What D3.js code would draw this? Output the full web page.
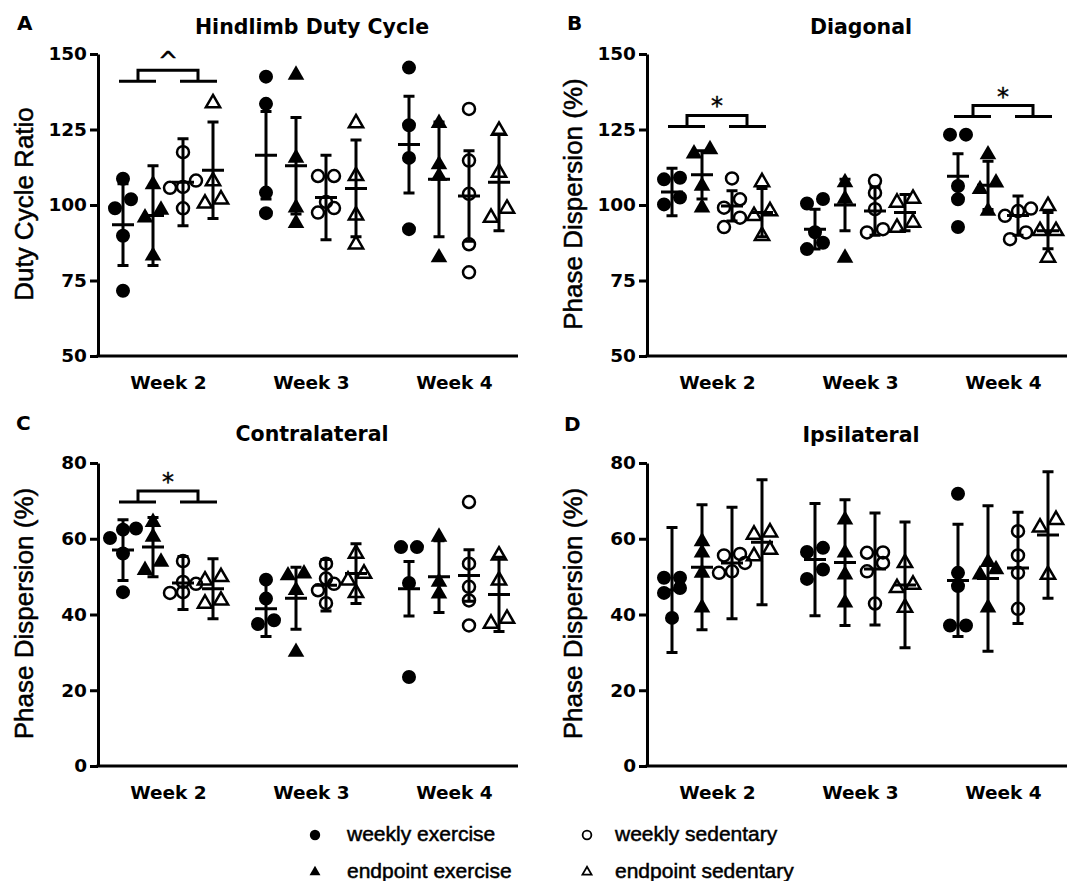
<!DOCTYPE html>
<html>
<head>
<meta charset="utf-8">
<script src="https://cdn.jsdelivr.net/npm/d3@7"></script>
<style>
body { margin: 0; background: #fff; }
</style>
</head>
<body>
<div id="chart"></div>
<script>
var weeks = ["Week 2", "Week 3", "Week 4"],
  groups = ["weekly exercise", "endpoint exercise", "weekly sedentary", "endpoint sedentary"],
  panelIds = ["A", "B", "C", "D"],
  panelTitles = ["Hindlimb Duty Cycle", "Diagonal", "Contralateral", "Ipsilateral"],
  yLabels = ["Duty Cycle Ratio", "Phase Dispersion (%)", "Phase Dispersion (%)", "Phase Dispersion (%)"],
  yDomains = [[50, 150], [50, 150], [0, 80], [0, 80]],
  yTicks = [[50, 75, 100, 125, 150], [50, 75, 100, 125, 150], [0, 20, 40, 60, 80], [0, 20, 40, 60, 80]];

// single animals, [week][group]
var dutyPoints = [
  [[108.7, 98.9, 101.9, 89.8, 71.6], [98.4, 106.8, 95.8, 83.2], [117.5, 108.1, 106, 105.7, 98.9], [133.7, 107.9, 100.5, 101.9]],
  [[142.5, 133.5, 104.1, 97.3], [143.1, 115.6, 94, 99.1], [109.6, 109.6, 101, 99, 97.5], [127.1, 109.6, 96.6, 87]],
  [[145.5, 126.4, 115.6, 92], [113.4, 127.1, 109.6, 82.6], [131.8, 114.7, 103.7, 87, 77.7], [124.6, 110.7, 95.8, 98.8]]
];
var diagonalPoints = [
  [[109, 108.5, 102.5, 100.2], [118.4, 117, 106.3, 99.1], [108.8, 101.9, 99.1, 95.8, 92.7], [107.6, 98, 96.4, 89.8]],
  [[102, 100.5, 91, 87.5, 85.4], [107.5, 102, 82.5], [104, 108, 98.6, 90.9, 92], [102.1, 100.8, 92.5, 94.2]],
  [[123.3, 123.3, 106.3, 101.9, 92.7], [116.7, 107.4, 105.2, 98], [98.8, 98, 96.4, 90.9, 88.7], [99.7, 91.4, 91.4, 82.6]]
];
var contraPoints = [
  [[60.2, 62.7, 62.4, 56.1, 45.9], [64.4, 60.5, 51.7, 53.9], [54.1, 48.1, 48.6, 45.9, 45.7], [49.9, 49, 42.9, 43.7]],
  [[49.2, 44.2, 38.5, 37.5], [50.3, 50.8, 46.4, 30.1], [53.4, 49.5, 46.4, 48.1, 43], [56.1, 50.8, 49, 45.7]],
  [[57.8, 57.8, 48.3, 23.5], [60.5, 48.6, 45.5], [69.7, 53.4, 47.3, 43.7, 37.1], [55.6, 49, 37.6, 38.9]]
];
var ipsiPoints = [
  [[49.7, 49.7, 47, 45.7, 39.1], [56.3, 59.3, 51, 41.8], [53.6, 55.6, 56, 51, 51.4], [61.7, 61.1, 55.4, 57.1]],
  [[57.6, 56.5, 51.9, 49.4], [65, 56.3, 50.5, 43.1], [56.4, 56.3, 53.6, 51.4, 42.9], [53.6, 47.9, 47, 41.8]],
  [[71.9, 51, 47.5, 37.1, 37.1], [53.8, 51.9, 50.5, 41.8], [62, 55.6, 51, 41.5], [65, 63, 50.5]]
];

// mean and SD, [week][group]
var dutyMean = [[93.5, 96.5, 107.5, 111.5], [116.5, 113, 102.5, 105.5], [120, 108.5, 103, 107.5]],
  dutySd = [[13.5, 16.5, 14.4, 16], [14.5, 16, 14, 16], [16, 19, 15, 16]];
var diagonalMean = [[104.3, 110, 99.7, 97.5], [92, 100, 98, 97.5], [109.5, 106.5, 96.5, 91.5]],
  diagonalSd = [[7.9, 8, 5, 8], [6.6, 8.5, 8, 6], [7.5, 8, 6.5, 6]];
var contraMean = [[57, 57.8, 48.3, 46.8], [41.5, 44.3, 47.7, 50.8], [46.8, 50, 50.3, 45.3]],
  contraSd = [[8, 7.8, 7, 7.9], [7.3, 8.2, 6.8, 7.9], [7.2, 9.5, 6.8, 9.8]];
var ipsiMean = [[46.5, 52.5, 53.6, 59.1], [54.5, 53.7, 52, 47.8], [49, 49.5, 52.3, 61]],
  ipsiSd = [[16.5, 16.5, 14.7, 16.5], [14.8, 16.6, 14.8, 16.6], [14.8, 19.2, 14.7, 16.7]];

// exercise vs sedentary brackets
var sigWeeks = [["Week 2"], ["Week 2", "Week 4"], ["Week 2"], []],
  sigLevels = [[141], [126, 129.3], [69.7], []],
  sigMarks = [["^"], ["*", "*"], ["*"], []];

var allPoints = [dutyPoints, diagonalPoints, contraPoints, ipsiPoints],
  allMeans = [dutyMean, diagonalMean, contraMean, ipsiMean],
  allSds = [dutySd, diagonalSd, contraSd, ipsiSd];

var boldFont = "DejaVu Sans",
  plainFont = "Liberation Sans, Arial, sans-serif",
  axisLen = 420;

var layout = [
  { x0: 98, top: 54, bottom: 356, letterX: 17, letterY: 30, titleY: 34 },
  { x0: 647, top: 54, bottom: 356, letterX: 567, letterY: 30, titleY: 34 },
  { x0: 98, top: 463, bottom: 766, letterX: 16, letterY: 430, titleY: 441 },
  { x0: 647, top: 463, bottom: 766, letterX: 564, letterY: 431, titleY: 442 }
];

var svg = d3.select("#chart").append("svg")
  .attr("width", 1073)
  .attr("height", 881);

// points that nearly share a value sit side by side, the rest stack on the centre
function swarm(vals, y, binH) {
  var pts = vals.map(function(v){ return { v: v, py: y(v), dx: 0 }; })
    .sort(function(a, b){ return b.py - a.py; });
  var i = 0;
  while (i < pts.length) {
    var j = i + 1;
    while (j < pts.length && pts[i].py - pts[j].py < binH) j++;
    var n = j - i, step = n > 2 ? 13 : 16;
    for (var t = i; t < j; t++) pts[t].dx = (t - i - (n - 1) / 2) * step;
    i = j;
  }
  return pts;
}

function drawMarker(sel, k, big) {
  var filled = k < 2, tri = k % 2 === 1;
  var sz = big ? (tri ? (filled ? 120 : 88) : (filled ? 154 : 113)) : (tri ? (filled ? 52 : 36) : (filled ? 85 : 60));
  sel.attr("d", d3.symbol().type(tri ? d3.symbolTriangle : d3.symbolCircle).size(sz))
    .attr("fill", filled ? "#000" : "none")
    .attr("stroke", filled ? "none" : "#000")
    .attr("stroke-width", big ? 2.5 : 1.8);
}

panelIds.forEach(function(id, p){
  var L = layout[p],
    g = svg.append("g").attr("class", "panel" + id);

  var y = d3.scaleLinear().domain(yDomains[p]).range([L.bottom, L.top]),
    x = d3.scalePoint().domain(weeks).range([L.x0 + 70, L.x0 + 356]),
    gx = d3.scalePoint().domain(groups).range([-45, 45]);

  // y axis
  var ya = g.append("g")
    .attr("transform", "translate(" + L.x0 + ",0)")
    .call(d3.axisLeft(y).tickValues(yTicks[p]).tickSize(8).tickSizeOuter(0).tickPadding(3));
  ya.attr("font-family", boldFont).attr("font-size", 18.5).attr("font-weight", "bold");
  ya.selectAll("path, line").attr("stroke-width", 3);

  // x axis
  g.append("line")
    .attr("x1", L.x0 - 1.5).attr("x2", L.x0 + axisLen)
    .attr("y1", L.bottom).attr("y2", L.bottom)
    .attr("stroke", "#000").attr("stroke-width", 3);
  var xa = g.append("g")
    .attr("transform", "translate(0," + L.bottom + ")")
    .call(d3.axisBottom(x).tickSize(0));
  xa.select(".domain").remove();
  xa.attr("font-family", boldFont).attr("font-size", 18.5).attr("font-weight", "bold");
  xa.selectAll("text").attr("y", 33).attr("dy", null);

  // labels
  g.append("text")
    .attr("x", L.letterX).attr("y", L.letterY)
    .attr("font-family", boldFont).attr("font-weight", "bold").attr("font-size", 20)
    .text(id);
  g.append("text")
    .attr("x", L.x0 + axisLen / 2 + 4).attr("y", L.titleY)
    .attr("text-anchor", "middle")
    .attr("font-family", boldFont).attr("font-weight", "bold").attr("font-size", 20.5)
    .text(panelTitles[p]);
  g.append("text")
    .attr("transform", "translate(" + (L.x0 - 65) + "," + ((L.top + L.bottom) / 2 - 1) + ") rotate(-90)")
    .attr("text-anchor", "middle")
    .attr("font-family", plainFont).attr("font-size", 26)
    .attr("stroke", "#000").attr("stroke-width", 0.5)
    .text(yLabels[p]);

  // points and mean +- SD
  weeks.forEach(function(wk, w){
    groups.forEach(function(grp, k){
      var cx = x(wk) + gx(grp),
        pts = swarm(allPoints[p][w][k], y, 10);

      g.selectAll(null)
        .data(pts).enter().append("path")
        .attr("transform", function(d){ return "translate(" + (cx + d.dx) + "," + d.py + ")"; })
        .call(drawMarker, k, true);

      var m = allMeans[p][w][k], s = allSds[p][w][k],
        yHi = y(m + s), yLo = y(m - s), yM = y(m);
      var path = d3.path();
      path.moveTo(cx, yHi); path.lineTo(cx, yLo);
      path.moveTo(cx - 5.5, yHi); path.lineTo(cx + 5.5, yHi);
      path.moveTo(cx - 5.5, yLo); path.lineTo(cx + 5.5, yLo);
      path.moveTo(cx - 11, yM); path.lineTo(cx + 11, yM);
      g.append("path")
        .attr("d", path.toString())
        .attr("fill", "none").attr("stroke", "#000").attr("stroke-width", 3);
    });
  });

  // brackets
  sigWeeks[p].forEach(function(wk, i){
    var c = x(wk), y0 = y(sigLevels[p][i]), yt = y0 - 11,
      mid0 = (gx(groups[0]) + gx(groups[1])) / 2,
      mid1 = (gx(groups[2]) + gx(groups[3])) / 2;
    var path = d3.path();
    path.moveTo(c + gx(groups[0]) - 4, y0); path.lineTo(c + gx(groups[1]) + 3, y0);
    path.moveTo(c + gx(groups[2]) - 3, y0); path.lineTo(c + gx(groups[3]) + 4, y0);
    path.moveTo(c + mid0, y0); path.lineTo(c + mid0, yt);
    path.lineTo(c + mid1, yt); path.lineTo(c + mid1, y0);
    g.append("path")
      .attr("d", path.toString())
      .attr("fill", "none").attr("stroke", "#000").attr("stroke-width", 3);
    g.append("text")
      .attr("x", c).attr("y", yt - 1)
      .attr("text-anchor", "middle")
      .attr("font-family", "DejaVu Sans").attr("font-size", 24)
      .attr("stroke", "#000").attr("stroke-width", 0.4)
      .text(sigMarks[p][i]);
  });
});

// legend
var legendCols = [315, 587], legendRows = [835, 872];
var legend = svg.append("g").selectAll(".leg")
  .data(groups).enter().append("g")
  .attr("class", "leg")
  .attr("transform", function(d, k){
    return "translate(" + legendCols[Math.floor(k / 2)] + "," + legendRows[k % 2] + ")";
  });
legend.append("path")
  .each(function(d, k){ d3.select(this).call(drawMarker, k, false); });
legend.append("text")
  .attr("x", function(d, k){ return k < 2 ? 32 : 28; })
  .attr("y", 6)
  .attr("font-family", plainFont).attr("font-size", 21)
  .attr("stroke", "#000").attr("stroke-width", 0.5)
  .text(function(d){ return d; });
</script>
</body>
</html>
